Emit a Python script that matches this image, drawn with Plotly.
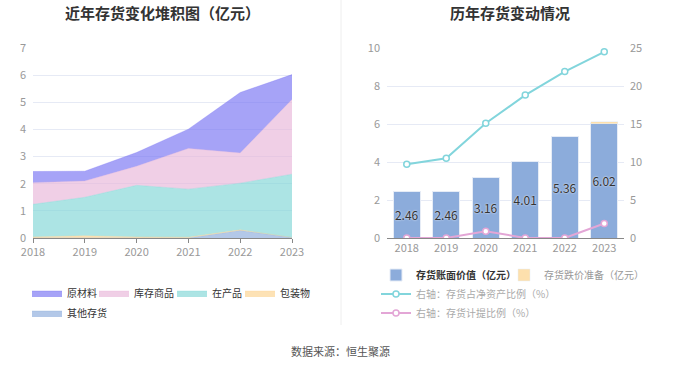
import plotly.graph_objects as go

years = [2018, 2019, 2020, 2021, 2022, 2023]
year_labels = [str(y) for y in years]

# Left: stacked inventory composition (亿元)
raw_material = [0.41, 0.36, 0.51, 0.71, 2.23, 0.92]
goods_stock = [0.80, 0.60, 0.70, 1.50, 1.11, 2.75]
work_in_progress = [1.20, 1.42, 1.90, 1.77, 1.72, 2.33]
packaging = [0.04, 0.08, 0.04, 0.03, 0.02, 0.00]
other_inv = [0.00, 0.00, 0.00, 0.00, 0.28, 0.02]

# Right: inventory book value and ratios
book_value = [2.46, 2.46, 3.16, 4.01, 5.36, 6.02]
impairment = [0.0, 0.0, 0.02, 0.0, 0.0, 0.10]
inv_to_net_assets = [9.7, 10.5, 15.1, 18.8, 21.9, 24.5]
provision_ratio = [0.0, 0.0, 0.9, 0.0, 0.0, 1.9]
book_labels = ["2.46", "2.46", "3.16", "4.01", "5.36", "6.02"]

W, H = 680, 367
def px(x):
    return x / W
def py(y):
    return (H - y) / H

FONT = "Noto Sans CJK SC, Noto Sans, sans-serif"
fig = go.Figure()

fill_cols = {"其他存货": "rgba(138,171,219,0.65)", "包装物": "rgba(252,211,141,0.65)",
             "在产品": "rgba(127,214,214,0.65)", "库存商品": "rgba(232,182,216,0.65)",
             "原材料": "rgba(119,114,242,0.65)"}
# stacking order bottom -> top, with legend slot for each
area_specs = [
    ("其他存货", other_inv, "legend5"),
    ("包装物", packaging, "legend4"),
    ("在产品", work_in_progress, "legend3"),
    ("库存商品", goods_stock, "legend2"),
    ("原材料", raw_material, "legend"),
]
for name, vals, lg in area_specs:
    fig.add_trace(go.Scatter(
        x=years, y=vals, name=name, stackgroup="one", mode="lines",
        line=dict(width=0.5, color=fill_cols[name]), fillcolor=fill_cols[name],
        xaxis="x", yaxis="y", legend=lg, hoverinfo="skip"))

fig.add_trace(go.Bar(
    x=year_labels, y=book_value, name="<b>存货账面价值（亿元）</b>",
    marker=dict(color="#8cacdb", line=dict(color="#e6ecf6", width=1)),
    text=book_labels, textposition="inside", insidetextanchor="middle", textangle=0,
    constraintext="none",
    textfont=dict(color="#333", size=12, shadow="0px 0px 2px white"),
    xaxis="x2", yaxis="y2", legend="legend6"))
fig.add_trace(go.Bar(
    x=year_labels, y=impairment, name="<span style='color:#999'>存货跌价准备（亿元）</span>",
    marker=dict(color="#fde0ad"), xaxis="x2", yaxis="y2", legend="legend7"))
fig.add_trace(go.Scatter(
    x=year_labels, y=inv_to_net_assets, name="<span style='color:#aaa'>右轴：存货占净资产比例（%）</span>",
    mode="lines+markers", line=dict(color="#82d5dc", width=2),
    marker=dict(symbol="circle", size=6, color="white", line=dict(color="#82d5dc", width=1.5)),
    xaxis="x2", yaxis="y3", legend="legend8"))
fig.add_trace(go.Scatter(
    x=year_labels, y=provision_ratio, name="<span style='color:#aaa'>右轴：存货计提比例（%）</span>",
    mode="lines+markers", line=dict(color="#e3a6d6", width=2),
    marker=dict(symbol="circle", size=6, color="white", line=dict(color="#e3a6d6", width=1.5)),
    xaxis="x2", yaxis="y3", legend="legend9"))

axis_font = dict(size=11, color="#999", family=FONT)
ydom = [py(238), py(48)]

def leg(text_x, row_y):
    return dict(orientation="h", x=px(text_x - 40), y=py(row_y), xanchor="left", yanchor="middle",
                font=dict(size=10, color="#333", family=FONT), itemwidth=30,
                bgcolor="rgba(0,0,0,0)", borderwidth=0)

fig.update_layout(
    width=W, height=H, margin=dict(l=0, r=0, t=0, b=0, autoexpand=False),
    paper_bgcolor="white", plot_bgcolor="white",
    font=dict(family=FONT, color="#333"),
    barmode="stack", bargap=0.31, showlegend=True,
    xaxis=dict(domain=[px(33), px(292)], range=[2018, 2023], tickvals=years,
               ticktext=year_labels, tickfont=axis_font, showgrid=False, showline=True,
               linecolor="#888", ticks="outside", ticklen=4, tickcolor="#888", zeroline=False,
               anchor="y"),
    yaxis=dict(domain=ydom, range=[0, 7], dtick=1, tickfont=axis_font, gridcolor="#e6eaf5",
               zeroline=False, showline=False, anchor="x", ticklabelstandoff=6),
    xaxis2=dict(domain=[px(387), px(624)], type="category", tickfont=axis_font, showgrid=False,
                showline=True, linecolor="#888", ticks="", anchor="y2"),
    yaxis2=dict(domain=ydom, range=[0, 10], dtick=2, tickfont=axis_font, gridcolor="#e6eaf5",
                zeroline=False, anchor="x2", ticklabelstandoff=6),
    yaxis3=dict(domain=ydom, range=[0, 25], dtick=5, tickfont=axis_font, overlaying="y2",
                side="right", showgrid=False, zeroline=False, anchor="x2", ticklabelstandoff=5),
    legend=leg(67, 293),
    legend2=leg(134, 293),
    legend3=leg(212, 293),
    legend4=leg(280, 293),
    legend5=leg(67, 313),
    legend6=leg(416, 275),
    legend7=leg(544, 275),
    legend8=leg(416, 294),
    legend9=leg(416, 313),
    annotations=[
        dict(text="<b>近年存货变化堆积图（亿元）</b>", x=px(162), y=py(13), xref="paper", yref="paper",
             xanchor="center", yanchor="middle", showarrow=False,
             font=dict(size=15, color="#333", family=FONT)),
        dict(text="<b>历年存货变动情况</b>", x=px(510), y=py(13), xref="paper", yref="paper",
             xanchor="center", yanchor="middle", showarrow=False,
             font=dict(size=15, color="#333", family=FONT)),
        dict(text="数据来源：恒生聚源", x=px(340), y=py(351), xref="paper", yref="paper",
             xanchor="center", yanchor="middle", showarrow=False,
             font=dict(size=11, color="#555", family=FONT)),
    ],
    shapes=[dict(type="line", xref="paper", yref="paper", x0=px(341), x1=px(341),
                 y0=py(325), y1=1, line=dict(color="#eeeeee", width=1))],
)

fig.write_html("out.html", config={"displayModeBar": False},
               post_script="document.body.style.margin='0';document.body.style.padding='0';")
